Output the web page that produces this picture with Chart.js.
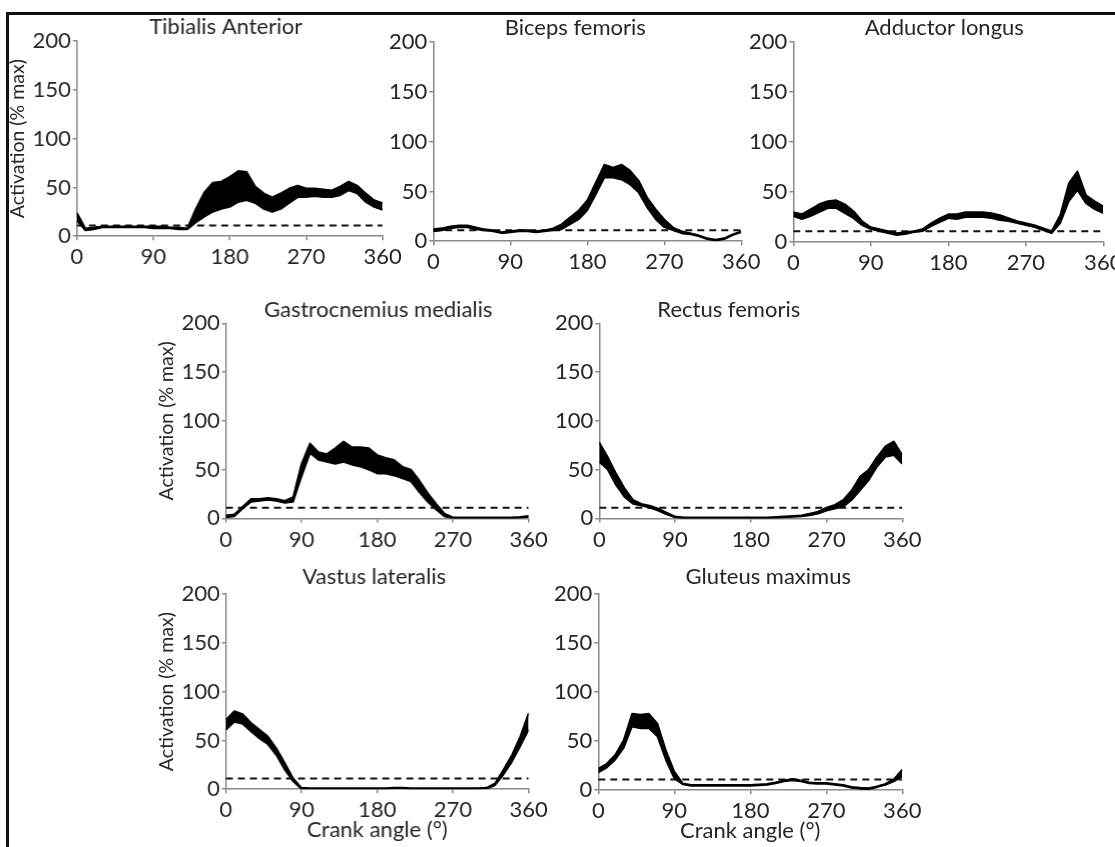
<!DOCTYPE html>
<html><head><meta charset="utf-8">
<script src="https://cdn.jsdelivr.net/npm/chart.js@4"></script>
<style>
html,body{margin:0;padding:0;background:#fff;width:1115px;height:847px;overflow:hidden;}
#frame{position:absolute;left:6px;top:12px;width:1120px;height:850px;border-top:3px solid #111;border-left:3px solid #111;}
.panel{position:absolute;}
</style></head><body>
<div id="frame"></div>
<script>
// Crank angle grid (degrees)
const angles = [0,10,20,30,40,50,60,70,80,90,100,110,120,130,140,150,160,170,180,190,200,210,220,230,240,250,260,270,280,290,300,310,320,330,340,350,360];
const xTickValues = [0,90,180,270,360];
const yTickValues = [0,50,100,150,200];
const thresholdAngles = [0,360];
const threshold = [11,11];

// Tibialis Anterior
const taUpper = [24,8,9,10,10,10,10,10,10,10,10,9,9,8,28,45,55,56,61,67,66,51,44,40,44,49,52,49,49,48,47,51,56,52,44,37,34];
const taLower = [16,6,7,9,9,9,9,9,9,8,8,8,7,7,14,20,25,28,30,35,37,34,28,25,28,34,40,40,41,40,40,42,47,44,35,30,27];
// Biceps femoris
const bfUpper = [12,13,15,16,16,14,12,11,9,10,11,11,10,11,13,17,24,31,41,59,77,74,77,71,61,44,32,22,14,10,8,6,3,1.5,3,7,10];
const bfLower = [10,11,13,14,14,12,11,10,8,9,10,10,9,10,11,12,17,22,31,47,64,64,62,57,49,34,22,14,11,8,7,5,2,0.5,2,6,9];
// Adductor longus
const alUpper = [30,28,33,38,41,42,38,31,21,15,13,11,9,10,11,13,19,24,28,28,30,30,30,29,27,24,21,19,17,14,11,27,59,71,47,41,36];
const alLower = [26,23,26,30,34,34,29,24,17,13,11,9,7,8,10,11,16,20,24,23,25,25,25,24,22,21,19,17,15,12,9,19,41,52,39,33,29];
// Gastrocnemius medialis
const gmUpper = [3,4,12,20,20,21,20,18,22,56,77,68,66,72,79,73,73,72,65,62,60,53,50,39,26,15,5,1,1,1,1,1,1,1,1,1.5,2.5];
const gmLower = [1,2,10,17,18,19,18,16,17,43,67,60,58,56,58,55,53,50,46,46,44,41,38,27,17,9,2,0,0,0,0,0,0,0,0,0.5,1.5];
// Rectus femoris
const rfUpper = [78,63,46,31,19,15,13,10,6,2,1,1,1,1,1,1,1,1,1,1,1,1.5,2,2.5,3,5,7,11,14,19,29,43,50,63,74,79,65];
const rfLower = [58,50,34,22,15,13,11,8,4,1,0,0,0,0,0,0,0,0,0,0,0,0.5,1,1.5,2,3,5,8,10,12,19,29,39,53,63,65,56];
// Vastus lateralis
const vlUpper = [71,80,77,68,61,54,42,27,11,1.5,1,1,1,1,1,1,1,1,1,1,1.5,1.5,1,1,1,1,1,1,1,1,1,1.5,6,20,35,54,78];
const vlLower = [61,69,67,59,52,46,35,20,8,0,0,0,0,0,0,0,0,0,0,0,0.5,0.5,0,0,0,0,0,0,0,0,0,0.5,4,15,28,44,61];
// Gluteus maximus
const gxUpper = [22,27,36,51,78,77,78,68,41,19,7,5.5,5.5,5.5,5.5,5.5,5.5,5.5,5.5,6,6.5,8,10,11.5,10,8,7.5,7.5,6.5,5.5,3.5,2.5,2,4,6.5,11,21];
const gxLower = [18,23,31,43,65,63,63,55,31,12,6,4.5,4.5,4.5,4.5,4.5,4.5,4.5,4.5,5,5.5,7,9,10,9,7,6.5,6.5,5.5,4.5,2.5,1.5,1,3,5.5,9,14];

const FONT = 'Lato, "Open Sans", sans-serif';
const TXT = '#262626';
const AX = '#8a8a8a';

const panels = [
  {title:'Tibialis Anterior', upper:taUpper, lower:taLower, L:77, R:382, T:41, B:236, yTitle:true, xTitle:false, gap:14, dx:-4},
  {title:'Biceps femoris', upper:bfUpper, lower:bfLower, L:433, R:741, T:42, B:241, yTitle:false, xTitle:false, gap:14, dx:-12},
  {title:'Adductor longus', upper:alUpper, lower:alLower, L:793, R:1103, T:42, B:242, yTitle:false, xTitle:false, gap:14, dx:-4},
  {title:'Gastrocnemius medialis', upper:gmUpper, lower:gmLower, L:226, R:528, T:323, B:518, yTitle:true, xTitle:false, gap:11, dx:1},
  {title:'Rectus femoris', upper:rfUpper, lower:rfLower, L:599, R:902, T:323, B:518, yTitle:false, xTitle:false, gap:11, dx:-22},
  {title:'Vastus lateralis', upper:vlUpper, lower:vlLower, L:226, R:528, T:594, B:789, yTitle:true, xTitle:true, gap:17, dx:-3},
  {title:'Gluteus maximus', upper:gxUpper, lower:gxLower, L:598, R:902, T:594, B:790, yTitle:false, xTitle:true, gap:17, dx:18}
];

function pts(xs, ys){ return xs.map((a,i)=>({x:a, y:ys[i]})); }

function build(p){
  const div = document.createElement('div');
  div.className = 'panel';
  div.style.left = '0px'; div.style.top = '0px'; div.style.width = '420px'; div.style.height = '300px';
  const cv = document.createElement('canvas');
  div.appendChild(cv);
  document.body.appendChild(div);
  const tickFont = {family: FONT, size: 22};
  const TS = 22;
  const chart = new Chart(cv, {
    type: 'line',
    data: {datasets: [
      {data: pts(angles, p.upper), borderColor:'#000', backgroundColor:'#000', borderWidth:1.8, fill:'+1', pointRadius:0, tension:0, borderJoinStyle:'round'},
      {data: pts(angles, p.lower), borderColor:'#000', borderWidth:1.8, fill:false, pointRadius:0, tension:0, borderJoinStyle:'round'},
      {data: pts(thresholdAngles, threshold), borderColor:'#111', borderWidth:2, borderDash:[7,5], fill:false, pointRadius:0}
    ]},
    options: {
      responsive: true, maintainAspectRatio: false, animation: false,
      layout: {padding: {left: 2, right: 6, top: 0, bottom: 0}},
      plugins: {
        legend: {display: false}, tooltip: {enabled: false},
        title: {display: true, text: p.title, fullSize: false, color: TXT,
          font: {family: FONT, size: TS, weight: 'normal', lineHeight: 1.2},
          padding: {top: 0, bottom: Math.max(0, p.gap - 0.6 * TS)}}
      },
      scales: {
        x: {type: 'linear', min: 0, max: 360,
          afterBuildTicks: s => { s.ticks = xTickValues.map(v => ({value: v})); },
          ticks: {color: TXT, font: tickFont, padding: 4, maxRotation: 0, autoSkip: false},
          grid: {drawOnChartArea: false, color: AX, tickLength: 4, lineWidth: 1.5},
          border: {color: AX, width: 1.5},
          title: {display: p.xTitle, text: 'Crank angle (°)', color: TXT, font: {family: FONT, size: 22, lineHeight: 1.2}, padding: {top: -11, bottom: 0}}
        },
        y: {min: 0, max: 200,
          afterBuildTicks: s => { s.ticks = yTickValues.map(v => ({value: v})); },
          ticks: {color: TXT, font: tickFont, padding: 2, autoSkip: false},
          grid: {drawOnChartArea: false, color: AX, tickLength: 4, lineWidth: 1.5},
          border: {color: AX, width: 1.5},
          title: {display: p.yTitle, text: 'Activation (% max)', color: TXT, font: {family: FONT, size: 19.5}, padding: {top: 0, bottom: 1}}
        }
      }
    },
    plugins: [{id: 'titleShift', afterLayout(c){ const t = c.titleBlock; if (t){ t.left += p.dx; t.right += p.dx; } }}]
  });
  const a = chart.chartArea;
  const w0 = chart.width, h0 = chart.height;
  const ol = a.left, ot = a.top, orr = w0 - a.right, ob = h0 - a.bottom;
  div.style.left = (p.L - ol) + 'px';
  div.style.top = (p.T - ot) + 'px';
  div.style.width = (p.R - p.L + ol + orr) + 'px';
  div.style.height = (p.B - p.T + ot + ob) + 'px';
  chart.resize();
  return chart;
}
panels.forEach(build);
</script>
</body></html>
